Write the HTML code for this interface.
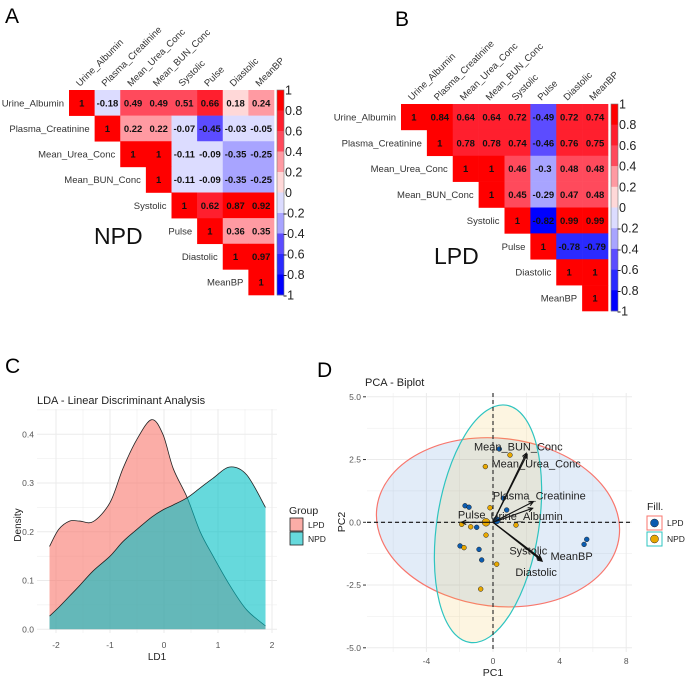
<!DOCTYPE html>
<html><head><meta charset="utf-8"><style>
html,body{margin:0;padding:0;background:#fff}
svg{display:block;font-family:"Liberation Sans",Arial,sans-serif}
</style></head><body>
<svg id="fig" width="685" height="679" viewBox="0 0 685 679">
<rect x="0" y="0" width="685" height="679" fill="#fff"/>
<text x="5" y="23" font-size="21">A</text>
<text x="395" y="26" font-size="21">B</text>
<text x="5" y="373" font-size="21">C</text>
<text x="317" y="377" font-size="21">D</text>
<g id="corrA"></g>
<g id="corrB"></g>
<g id="lda"></g>
<g id="pca"></g>
</svg>
<script>
const NS="http://www.w3.org/2000/svg";
function mk(parent,tag,attrs,text){const e=document.createElementNS(NS,tag);for(const k in attrs)e.setAttribute(k,attrs[k]);if(text!==undefined)e.textContent=text;parent.appendChild(e);return e;}

// ---------- Correlation data ----------
const vars=["Urine_Albumin","Plasma_Creatinine","Mean_Urea_Conc","Mean_BUN_Conc","Systolic","Pulse","Diastolic","MeanBP"];
const npdRows=[
[1,-0.18,0.49,0.49,0.51,0.66,0.18,0.24],
[1,0.22,0.22,-0.07,-0.45,-0.03,-0.05],
[1,1,-0.11,-0.09,-0.35,-0.25],
[1,-0.11,-0.09,-0.35,-0.25],
[1,0.62,0.87,0.92],
[1,0.36,0.35],
[1,0.97],
[1]];
const lpdRows=[
[1,0.84,0.64,0.64,0.72,-0.49,0.72,0.74],
[1,0.78,0.78,0.74,-0.46,0.76,0.75],
[1,1,0.46,-0.3,0.48,0.48],
[1,0.45,-0.29,0.47,0.48],
[1,-0.82,0.99,0.99],
[1,-0.78,-0.79],
[1,1],
[1]];
const cbTicks=[1,0.8,0.6,0.4,0.2,0,-0.2,-0.4,-0.6,-0.8,-1];
const posCols=["#FFD8D8","#FF9AA2","#FF4A5C","#FF1F2E","#FF0000"];
const negCols=["#DCDCFF","#A8A4FF","#5C4CFF","#2A2AFF","#0000FF"];
function ccol(v){const k=Math.min(4,Math.floor(Math.abs(v)/0.2+1e-9));return v>=0?posCols[k]:negCols[k];}

function corrplot(g,rows,L,T,W,H,cbX,title,tx,ty){
  const cw=W/8,ch=H/8;
  rows.forEach((r,i)=>{
    r.forEach((v,jj)=>{
      const j=i+jj;
      const c=mk(g,"rect",{x:L+j*cw,y:T+i*ch,width:cw+0.3,height:ch+0.3,fill:ccol(v)});
      
      
      const t=mk(g,"text",{x:L+j*cw+cw/2,y:T+i*ch+ch/2+3.5,"font-size":9.5,"font-weight":"bold","text-anchor":"middle",fill:"#111"},String(v));
      
      
    });
    const rl=mk(g,"text",{x:L+i*cw-5,y:T+i*ch+ch/2+3.5,"font-size":9.5,"text-anchor":"end",fill:"#333"},vars[i]);
    
    
    const cx=L+i*cw+cw/2-2,cy=T-3;
    const cl=mk(g,"text",{x:cx,y:cy,"font-size":9.5,fill:"#333",transform:`rotate(-45 ${cx} ${cy})`},vars[i]);
    
    
  });
  const bh=H/10;
  for(let k=0;k<10;k++){
    const v=1-0.2*k-0.1;
    const r=mk(g,"rect",{x:cbX,y:T+k*bh,width:7,height:bh+0.3,fill:ccol(v)});
    
    
  }
  mk(g,"rect",{x:cbX,y:T,width:7,height:H,fill:"none",stroke:"#777","stroke-width":0.6});
  cbTicks.forEach(v=>{
    const y=T+(1-v)/2*H;
    const t=mk(g,"text",{x:cbX+(v<0?6:8),y:y+4.5,"font-size":12.5,fill:"#222"},String(v));
    
    
  });
  const tt=mk(g,"text",{x:tx,y:ty,"font-size":23,fill:"#111"},title);
  
  
}
corrplot(document.getElementById("corrA"),npdRows,69,90,205,205,277,"NPD",94,244);
corrplot(document.getElementById("corrB"),lpdRows,401,104,207,207,611,"LPD",434,264);

// ---------- LDA density ----------
const ldX=[-2.12,-1.95,-1.75,-1.56,-1.31,-1.0,-0.76,-0.5,-0.23,-0.02,0.17,0.43,0.67,0.91,1.22,1.53,1.88];
const lpdDens=[0.17,0.205,0.222,0.222,0.221,0.26,0.33,0.39,0.43,0.40,0.33,0.27,0.20,0.15,0.09,0.04,0.007];
const npdDens=[0.027,0.045,0.068,0.09,0.12,0.15,0.18,0.205,0.23,0.245,0.255,0.27,0.29,0.31,0.333,0.317,0.25];
const ldXTicks=[-2,-1,0,1,2];
const ldYTicks=[0,0.1,0.2,0.3,0.4];
(function(){
  const g=document.getElementById("lda");
  const sx=v=>164+v*54, sy=v=>629.3-v*487.5;
  const L=37,R=277,T=409,B=633;
  for(let v=-2;v<=2;v+=0.5){mk(g,"line",{x1:sx(v),x2:sx(v),y1:T,y2:B,stroke:"#EBEBEB","stroke-width":v%1===0?1:0.5});}
  for(let v=0;v<=0.45;v+=0.05){mk(g,"line",{x1:L,x2:R,y1:sy(v),y2:sy(v),stroke:"#EBEBEB","stroke-width":Math.abs(v*10-Math.round(v*10))<1e-6?1:0.5});}
  function smooth(xs,ys){
    const p=xs.map((x,i)=>[sx(x),sy(ys[i])]);
    let d=`M${p[0][0]},${p[0][1]}`;
    for(let i=0;i<p.length-1;i++){
      const p0=p[Math.max(0,i-1)],p1=p[i],p2=p[i+1],p3=p[Math.min(p.length-1,i+2)];
      d+=` C${p1[0]+(p2[0]-p0[0])/6},${p1[1]+(p2[1]-p0[1])/6} ${p2[0]-(p3[0]-p1[0])/6},${p2[1]-(p3[1]-p1[1])/6} ${p2[0]},${p2[1]}`;
    }
    return d;
  }
  [[lpdDens,"#F8766D","lpd"],[npdDens,"#00BFC4","npd"]].forEach(([ys,col,nm])=>{
    const line=smooth(ldX,ys);
    const area=line+` L${sx(ldX[ldX.length-1])},${sy(0)} L${sx(ldX[0])},${sy(0)} Z`;
    const a=mk(g,"path",{d:area,fill:col,"fill-opacity":0.6,stroke:"none"});
    
    
    mk(g,"path",{d:line,fill:"none",stroke:"#222","stroke-width":0.8});
  });
  ldXTicks.forEach(v=>{const t=mk(g,"text",{x:sx(v),y:648,"font-size":8.5,"text-anchor":"middle",fill:"#555"},String(v));
    });
  ldYTicks.forEach(v=>{const t=mk(g,"text",{x:34,y:sy(v)+3,"font-size":8.5,"text-anchor":"end",fill:"#555"},v.toFixed(1));
    });
  let t=mk(g,"text",{x:37,y:404,"font-size":11,fill:"#222"},"LDA - Linear Discriminant Analysis");
  
  t=mk(g,"text",{x:157,y:660,"font-size":10,"text-anchor":"middle",fill:"#222"},"LD1");
  
  t=mk(g,"text",{x:21,y:525,"font-size":10,"text-anchor":"middle",fill:"#222",transform:"rotate(-90 21 525)"},"Density");
  
  t=mk(g,"text",{x:289,y:514,"font-size":10.5,fill:"#222"},"Group");
  
  [["LPD","#F8766D",518],["NPD","#00BFC4",532]].forEach(([n,c,y])=>{
    const r=mk(g,"rect",{x:290,y:y,width:13,height:13,fill:c,"fill-opacity":0.6,stroke:"#222","stroke-width":0.8});
    
    const l=mk(g,"text",{x:308,y:y+10,"font-size":8.5,fill:"#222"},n);
    
  });
})();

// ---------- PCA biplot ----------
const lpdPC1=[0.38,-1.68,-1.44,0.82,-0.98,-1.98,-0.84,-0.68,5.63,5.47,0.62,0.28];
const lpdPC2=[2.92,0.66,0.60,0.49,-0.20,-0.94,-1.08,-1.50,-0.68,-0.88,0.96,0.06];
const npdPC1=[1.02,-0.46,-0.18,-1.88,-1.34,-0.42,-1.74,0.22,-0.74,1.38];
const npdPC2=[2.68,2.22,0.58,-0.08,-0.18,-0.51,-1.01,-1.67,-2.66,-0.11];
const groupMeanPC1=[0.22,-0.42];
const groupMeanPC2=[0.08,0.0];
const loadNames=["Mean_BUN_Conc","Mean_Urea_Conc","Plasma_Creatinine","Urine_Albumin","Pulse","Systolic","Diastolic","MeanBP"];
const loadPC1=[2.0,2.05,2.42,2.38,-1.88,2.9,2.95,2.92];
const loadPC2=[2.75,2.7,0.82,0.56,0.0,-1.45,-1.55,-1.5];
const pcXTicks=[-4,0,4,8];
const pcYTicks=[5,2.5,0,-2.5,-5];
(function(){
  const g=document.getElementById("pca");
  const sx=v=>493+v*16.65, sy=v=>522.3-v*25.1;
  const L=367,R=632,T=393,B=652;
  for(let v=-6;v<=8;v+=2){mk(g,"line",{x1:sx(v),x2:sx(v),y1:T,y2:B,stroke:"#EBEBEB","stroke-width":v%4===0?1:0.5});}
  for(let v=-5;v<=5;v+=1.25){mk(g,"line",{x1:L,x2:R,y1:sy(v),y2:sy(v),stroke:"#EBEBEB","stroke-width":Math.abs(v%2.5)<1e-6?1:0.5});}
  let e=mk(g,"ellipse",{cx:sx(0.3),cy:sy(0.0),rx:122,ry:84,transform:`rotate(6.6 ${sx(0.3)} ${sy(0)})`,fill:"#3F7FD0","fill-opacity":0.15,stroke:"#F8766D","stroke-width":1.2});
  
  e=mk(g,"ellipse",{cx:sx(-0.3),cy:sy(-0.06),rx:51,ry:120,transform:`rotate(8.8 ${sx(-0.3)} ${sy(-0.06)})`,fill:"#F5C242","fill-opacity":0.16,stroke:"#2EC4C0","stroke-width":1.2});
  
  mk(g,"line",{x1:L,x2:R,y1:sy(0),y2:sy(0),stroke:"#111","stroke-width":1.2,"stroke-dasharray":"4,3"});
  mk(g,"line",{x1:sx(0),x2:sx(0),y1:T,y2:B,stroke:"#333","stroke-width":1.2,"stroke-dasharray":"4,3"});
  lpdPC1.forEach((x,i)=>{const c=mk(g,"circle",{cx:sx(x),cy:sy(lpdPC2[i]),r:2.4,fill:"#0B5CB0",stroke:"#222","stroke-width":0.5});
    });
  npdPC1.forEach((x,i)=>{const c=mk(g,"circle",{cx:sx(x),cy:sy(npdPC2[i]),r:2.4,fill:"#E8A800",stroke:"#222","stroke-width":0.5});
    });
  let c=mk(g,"circle",{cx:sx(groupMeanPC1[0]),cy:sy(groupMeanPC2[0]),r:3.6,fill:"#0B5CB0",stroke:"#222","stroke-width":0.5});
  
  c=mk(g,"circle",{cx:sx(groupMeanPC1[1]),cy:sy(groupMeanPC2[1]),r:3.9,fill:"#E8A800",stroke:"#222","stroke-width":0.5});
  
  const labOff={"Mean_BUN_Conc":[-8,-7],"Mean_Urea_Conc":[9,9],"Plasma_Creatinine":[6,-6],"Urine_Albumin":[-6,8],"Pulse":[10,-8],"Systolic":[-13,-8],"Diastolic":[-6,11],"MeanBP":[30,-4]};
  loadPC1.forEach((x,i)=>{
    const x2=sx(x),y2=sy(loadPC2[i]),x1=sx(0),y1=sy(0);
    const a=mk(g,"line",{x1:x1,y1:y1,x2:x2,y2:y2,stroke:"#111","stroke-width":1.1});
    
    const ang=Math.atan2(y2-y1,x2-x1),h=5;
    mk(g,"polyline",{points:`${x2-h*Math.cos(ang-0.45)},${y2-h*Math.sin(ang-0.45)} ${x2},${y2} ${x2-h*Math.cos(ang+0.45)},${y2-h*Math.sin(ang+0.45)}`,fill:"none",stroke:"#111","stroke-width":1.1});
    const o=labOff[loadNames[i]];
    const t=mk(g,"text",{x:x2+o[0],y:y2+o[1]+4,"font-size":11,"text-anchor":"middle",fill:"#222"},loadNames[i]);
    
  });
  pcXTicks.forEach(v=>{const t=mk(g,"text",{x:sx(v),y:664,"font-size":8.5,"text-anchor":"middle",fill:"#555"},String(v));
    });
  pcYTicks.forEach(v=>{mk(g,"line",{x1:363,x2:366,y1:sy(v),y2:sy(v),stroke:"#333"});
    const t=mk(g,"text",{x:361,y:sy(v)+3,"font-size":8.5,"text-anchor":"end",fill:"#555"},v.toFixed(1));
    });
  let t=mk(g,"text",{x:365,y:386,"font-size":11,fill:"#222"},"PCA - Biplot");
  
  t=mk(g,"text",{x:493,y:676,"font-size":10.5,"text-anchor":"middle",fill:"#222"},"PC1");
  
  t=mk(g,"text",{x:345,y:522,"font-size":10.5,"text-anchor":"middle",fill:"#222",transform:"rotate(-90 345 522)"},"PC2");
  
  t=mk(g,"text",{x:647,y:510,"font-size":10.5,fill:"#222"},"Fill.");
  
  [["LPD","#F8766D","#0B5CB0",516],["NPD","#2EC4C0","#E8A800",532]].forEach(([n,b,f,y])=>{
    const r=mk(g,"rect",{x:647,y:y,width:15,height:14,fill:"#fff",stroke:b,"stroke-width":1});
    
    mk(g,"circle",{cx:654.5,cy:y+7,r:4,fill:f,stroke:"#222","stroke-width":0.5});
    const l=mk(g,"text",{x:667,y:y+10,"font-size":8.5,fill:"#222"},n);
    
  });
})();
</script>
</body></html>
